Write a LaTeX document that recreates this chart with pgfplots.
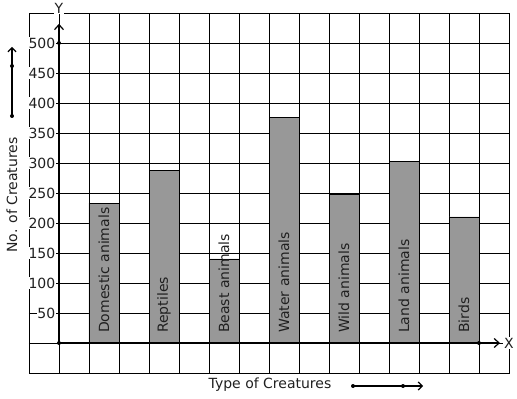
\documentclass[border=0pt]{standalone}
\usepackage{pgfplots}
\pgfplotsset{compat=1.18}
\usepackage{fontspec}
\setmainfont{DejaVu Sans}
\usetikzlibrary{arrows.meta}
\definecolor{barfill}{HTML}{989898}
\definecolor{txt}{HTML}{202020}
\begin{document}
\begin{tikzpicture}[font=\fontsize{14}{16}\selectfont,
  barlab/.style={rotate=90, anchor=west, text=txt, inner sep=0pt, xshift=10pt}]
\path[use as bounding box] (-59pt,-56pt) rectangle (458pt,343pt);
\begin{axis}[
  anchor=origin, at={(0pt,0pt)},
  x=30pt, y=0.6pt,
  xmin=-1, xmax=15, ymin=-50, ymax=550,
  axis line style={black, line width=0.8pt},
  grid=both,
  major grid style={black, line width=0.8pt},
  xtick={0,...,14}, xticklabels={},
  ytick={50,100,...,500},
  extra y ticks={0}, extra y tick labels={},
  major tick length=0pt,
  /pgf/number format/assume math mode=true,
  tick label style={font=\fontsize{14}{16}\selectfont},
  yticklabel style={anchor=east, xshift=27pt, fill=white, inner sep=0.5pt, text=txt},
  clip=false,
]
\addplot[ybar, bar width=30pt, fill=barfill, draw=black, line width=0.7pt]
  coordinates {(1.5,233) (3.5,287) (5.5,140) (7.5,376) (9.5,248) (11.5,302) (13.5,210)};
\draw[line width=1.8pt, -{Straight Barb[length=5pt, width=9pt, line width=1.2pt]}] (axis cs:0,0) -- (axis cs:0,532);
\draw[line width=1.8pt, -{Straight Barb[length=5pt, width=9pt, line width=1.2pt]}] (axis cs:0,0) -- (axis cs:14.7,0);
\fill (axis cs:0,0) circle (2pt);
\fill (axis cs:0,500) circle (2pt);
\fill (axis cs:14,0) circle (2pt);
\node[barlab] at (axis cs:1.5,0) {Domestic animals};
\node[barlab] at (axis cs:3.5,0) {Reptiles};
\node[barlab] at (axis cs:5.5,0) {Beast animals};
\node[barlab] at (axis cs:7.5,0) {Water animals};
\node[barlab] at (axis cs:9.5,0) {Wild animals};
\node[barlab] at (axis cs:11.5,0) {Land animals};
\node[barlab] at (axis cs:13.5,0) {Birds};
\node[fill=white, inner sep=1pt, text=txt] at (axis cs:0,558) {Y};
\node[fill=white, inner sep=1pt, text=txt] at (axis cs:15,0) {X};
\end{axis}
\node[text=txt] at (211pt,-42pt) {Type of Creatures};
\node[rotate=90, text=txt] at (-47pt,148pt) {No. of Creatures};
\draw[line width=1.2pt, -{Straight Barb[length=4pt, width=8pt, line width=1.2pt]}] (294pt,-43pt) -- (364pt,-43pt);
\fill (294pt,-43pt) circle (2pt);
\fill (344pt,-43pt) circle (2pt);
\draw[line width=1.2pt, -{Straight Barb[length=4pt, width=8pt, line width=1.2pt]}] (-47pt,227pt) -- (-47pt,296pt);
\fill (-47pt,227pt) circle (2pt);
\fill (-47pt,277pt) circle (2pt);
\end{tikzpicture}
\end{document}
